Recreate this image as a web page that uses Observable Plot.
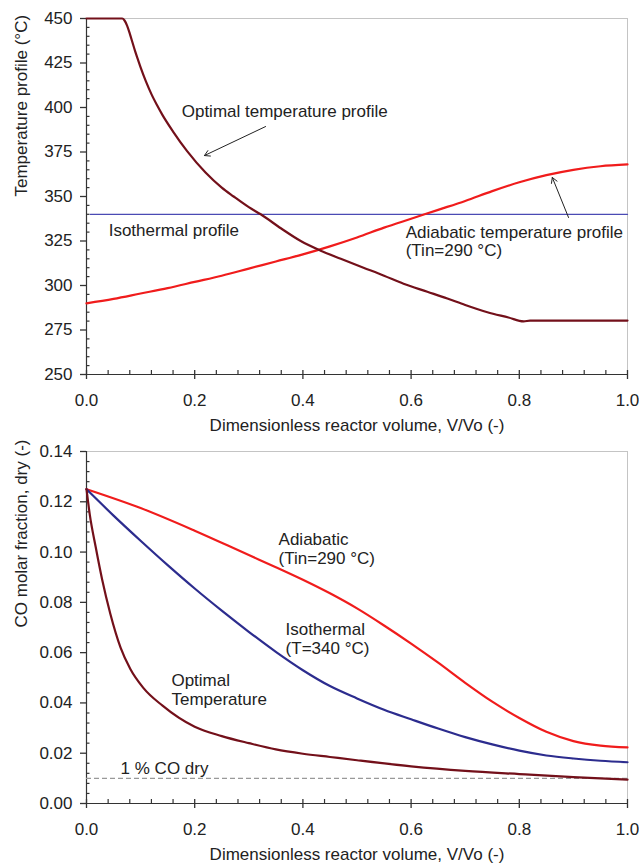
<!DOCTYPE html>
<html>
<head>
<meta charset="utf-8">
<script src="https://cdn.jsdelivr.net/npm/d3@7"></script>
<script src="https://cdn.jsdelivr.net/npm/@observablehq/plot@0.6"></script>
<style>
  html, body { margin: 0; padding: 0; background: #fff; }
  #chart { width: 639px; }
  #chart svg { display: block; }
</style>
</head>
<body>
<div id="chart"></div>
<script>
// ---------- shared x axis ----------
const xTicks = [0, 0.2, 0.4, 0.6, 0.8, 1.0];
const xMinorTicks = [0.04, 0.08, 0.12, 0.16, 0.24, 0.28, 0.32, 0.36, 0.44, 0.48, 0.52, 0.56, 0.64, 0.68, 0.72, 0.76, 0.84, 0.88, 0.92, 0.96];
const xLabel = "Dimensionless reactor volume, V/Vo (-)";

// ---------- top panel: temperature profiles ----------
const tempTicks = [250, 275, 300, 325, 350, 375, 400, 425, 450];
const tempMinorTicks = [255, 260, 265, 270, 280, 285, 290, 295, 305, 310, 315, 320, 330, 335, 340, 345, 355, 360, 365, 370, 380, 385, 390, 395, 405, 410, 415, 420, 430, 435, 440, 445];
const tempLabel = "Temperature profile (°C)";

const optVolT = [0, 0.066, 0.07, 0.075, 0.08, 0.085, 0.09, 0.095, 0.10, 0.11, 0.12, 0.13, 0.14, 0.16, 0.186, 0.22, 0.25, 0.272, 0.30, 0.322, 0.36, 0.396, 0.432, 0.47, 0.512, 0.55, 0.586, 0.63, 0.667, 0.70, 0.741, 0.78, 0.808, 0.82, 1.0];
const optTemp = [450, 450, 449, 446, 441.5, 436.5, 431.5, 427, 422.5, 414.5, 407.5, 401.5, 396, 386.5, 375.5, 363.5, 355, 350, 344, 340, 332, 325, 319.7, 315, 310, 305.5, 301, 296.5, 292.7, 289, 285, 282, 279.8, 280.3, 280.3];

const adiVolT = [0, 0.05, 0.1, 0.15, 0.2, 0.25, 0.3, 0.35, 0.4, 0.45, 0.5, 0.55, 0.6, 0.65, 0.7, 0.75, 0.8, 0.85, 0.9, 0.95, 1.0];
const adiTemp = [290, 292.5, 295.5, 298.5, 302, 305.5, 309.5, 313.5, 317.5, 322, 327, 332.5, 337.5, 342.5, 347.5, 353, 358, 362, 365, 367, 368];

const isoVolT = [0.007, 1.0];
const isoTemp = [340, 340];

const topNotes = [
  {text: "Optimal temperature profile", v: 0.176, y: 397.8},
  {text: "Isothermal profile", v: 0.041, y: 330.9},
  {text: "Adiabatic temperature profile\n(Tin=290 °C)", v: 0.59, y: 324.7}
];
const topArrows = [
  {v1: 0.331, y1: 389.3, v2: 0.218, y2: 373},
  {v1: 0.891, y1: 338.2, v2: 0.861, y2: 360.7}
];

// ---------- bottom panel: CO molar fraction ----------
const coTicks = [0, 0.02, 0.04, 0.06, 0.08, 0.10, 0.12, 0.14];
const coMinorTicks = [0.004, 0.008, 0.012, 0.016, 0.024, 0.028, 0.032, 0.036, 0.044, 0.048, 0.052, 0.056, 0.064, 0.068, 0.072, 0.076, 0.084, 0.088, 0.092, 0.096, 0.104, 0.108, 0.112, 0.116, 0.124, 0.128, 0.132, 0.136];
const coLabel = "CO molar fraction, dry (-)";

const optVolC = [0, 0.006, 0.017, 0.029, 0.044, 0.063, 0.081, 0.105, 0.14, 0.2, 0.25, 0.3, 0.35, 0.4, 0.45, 0.5, 0.6, 0.7, 0.8, 0.9, 1.0];
const optCO = [0.125, 0.115, 0.102, 0.089, 0.0755, 0.062, 0.0535, 0.046, 0.039, 0.0305, 0.0268, 0.024, 0.0215, 0.0198, 0.0185, 0.0172, 0.0148, 0.013, 0.0117, 0.0105, 0.0095];

const isoVolC = [0, 0.05, 0.1, 0.15, 0.2, 0.25, 0.3, 0.35, 0.4, 0.45, 0.5, 0.55, 0.6, 0.65, 0.7, 0.75, 0.8, 0.85, 0.9, 0.95, 1.0];
const isoCO = [0.125, 0.1145, 0.1045, 0.0948, 0.0855, 0.0767, 0.0683, 0.0603, 0.0530, 0.0467, 0.0418, 0.0373, 0.0335, 0.0298, 0.0264, 0.0235, 0.021, 0.0191, 0.0179, 0.0170, 0.0164];

const adiVolC = [0, 0.1, 0.2, 0.3, 0.35, 0.4, 0.45, 0.5, 0.55, 0.6, 0.65, 0.7, 0.75, 0.8, 0.85, 0.9, 0.95, 1.0];
const adiCO = [0.125, 0.1175, 0.1085, 0.0988, 0.094, 0.089, 0.0836, 0.0776, 0.0708, 0.0636, 0.056, 0.048, 0.0405, 0.034, 0.0285, 0.0248, 0.023, 0.0223];

const coLimit = 0.01;

const bottomNotes = [
  {text: "Adiabatic\n(Tin=290 °C)", v: 0.355, y: 0.1016},
  {text: "Isothermal\n(T=340 °C)", v: 0.368, y: 0.0658},
  {text: "Optimal\nTemperature", v: 0.157, y: 0.0455},
  {text: "1 % CO dry", v: 0.063, y: 0.0143}
];

// ---------- helpers ----------
const zip = (xs, ys) => xs.map((x, i) => ({x, y: ys[i]}));

const FONT = "'Liberation Sans', Arial, Helvetica, sans-serif";
const TEXT = "#222";
const AXIS = "#333";
const C_OPT = "#73101a";
const C_ADI = "#f01c1c";
const C_ISO_TOP = "#4a4ab4";
const C_ISO_BOT = "#2c2c8e";

const W = 639, ML = 86, MR = 12;

function panel({height, marginTop, marginBottom, yDomain, yTicks, yMinor, yFormat, yLabel, series, extra}) {
  const y0 = yDomain[0];
  const plotH = height - marginTop - marginBottom;
  const plotW = W - ML - MR;
  return Plot.plot({
    width: W,
    height,
    marginLeft: ML,
    marginRight: MR,
    marginTop,
    marginBottom,
    style: {fontFamily: FONT, fontSize: "17px", color: TEXT, background: "#fff", overflow: "visible"},
    x: {domain: [0, 1]},
    y: {domain: yDomain},
    marks: [
      Plot.frame({stroke: "#c4c4c4", strokeWidth: 1}),
      // tick labels only (tick marks drawn as rules below)
      Plot.axisX({ticks: xTicks, tickSize: 0, tickPadding: 19, tickFormat: d3.format(".1f"), label: null, fill: TEXT}),
      Plot.axisY({ticks: yTicks, tickSize: 0, tickPadding: 14, tickFormat: yFormat, label: null, fill: TEXT}),
      // x minor ticks: inside, 4px
      Plot.ruleX(xMinorTicks, {x: d => d, insetTop: plotH - 4, insetBottom: 0, stroke: AXIS, strokeWidth: 1.2}),
      // x major ticks: crossing the axis
      Plot.ruleX(xTicks, {x: d => d, insetTop: plotH - 4, insetBottom: -5, stroke: AXIS, strokeWidth: 1.3}),
      // y minor ticks: inside, 3px
      Plot.ruleY(yMinor, {y: d => d, insetLeft: 0, insetRight: plotW - 3.5, stroke: AXIS, strokeWidth: 1.2}),
      // y major ticks: outside, 6px
      Plot.ruleY(yTicks, {y: d => d, insetLeft: -6, insetRight: plotW, stroke: AXIS, strokeWidth: 1.3}),
      Plot.ruleX([0], {stroke: AXIS, strokeWidth: 1.2}),
      Plot.ruleY([y0], {stroke: AXIS, strokeWidth: 1.2}),
      ...series,
      ...extra,
      Plot.text([xLabel], {text: d => d, frameAnchor: "bottom", dy: 51, lineAnchor: "middle", fill: TEXT}),
      Plot.text([yLabel], {text: d => d, frameAnchor: "left", dx: -65, rotate: -90, lineAnchor: "middle", fill: TEXT})
    ]
  });
}

const topPanel = panel({
  height: 436, marginTop: 18, marginBottom: 62,
  yDomain: [250, 450], yTicks: tempTicks, yMinor: tempMinorTicks, yFormat: d3.format("d"), yLabel: tempLabel,
  series: [
    Plot.line(zip(isoVolT, isoTemp), {x: "x", y: "y", stroke: C_ISO_TOP, strokeWidth: 1.3}),
    Plot.line(zip(adiVolT, adiTemp), {x: "x", y: "y", stroke: C_ADI, strokeWidth: 2.2, curve: "monotone-x"}),
    Plot.line(zip(optVolT, optTemp), {x: "x", y: "y", stroke: C_OPT, strokeWidth: 2.2, curve: "monotone-x"})
  ],
  extra: [
    Plot.text(topNotes, {x: "v", y: "y", text: "text", textAnchor: "start", lineAnchor: "middle", lineHeight: 1.07, fill: TEXT}),
    Plot.arrow(topArrows, {x1: "v1", y1: "y1", x2: "v2", y2: "y2", stroke: "#222", strokeWidth: 1, headLength: 9})
  ]
});

const bottomPanel = panel({
  height: 428, marginTop: 15, marginBottom: 61,
  yDomain: [0, 0.14], yTicks: coTicks, yMinor: coMinorTicks, yFormat: d3.format(".2f"), yLabel: coLabel,
  series: [
    Plot.ruleY([coLimit], {x1: 0, x2: 1, stroke: "#999", strokeWidth: 1.2, strokeDasharray: "5,3"}),
    Plot.line(zip(adiVolC, adiCO), {x: "x", y: "y", stroke: C_ADI, strokeWidth: 2.2, curve: "monotone-x"}),
    Plot.line(zip(isoVolC, isoCO), {x: "x", y: "y", stroke: C_ISO_BOT, strokeWidth: 2.2, curve: "monotone-x"}),
    Plot.line(zip(optVolC, optCO), {x: "x", y: "y", stroke: C_OPT, strokeWidth: 2.2, curve: "monotone-x"})
  ],
  extra: [
    Plot.text(bottomNotes, {x: "v", y: "y", text: "text", textAnchor: "start", lineAnchor: "middle", lineHeight: 1.12, fill: TEXT})
  ]
});

const root = document.getElementById("chart");
root.appendChild(topPanel);
root.appendChild(bottomPanel);
</script>
</body>
</html>
